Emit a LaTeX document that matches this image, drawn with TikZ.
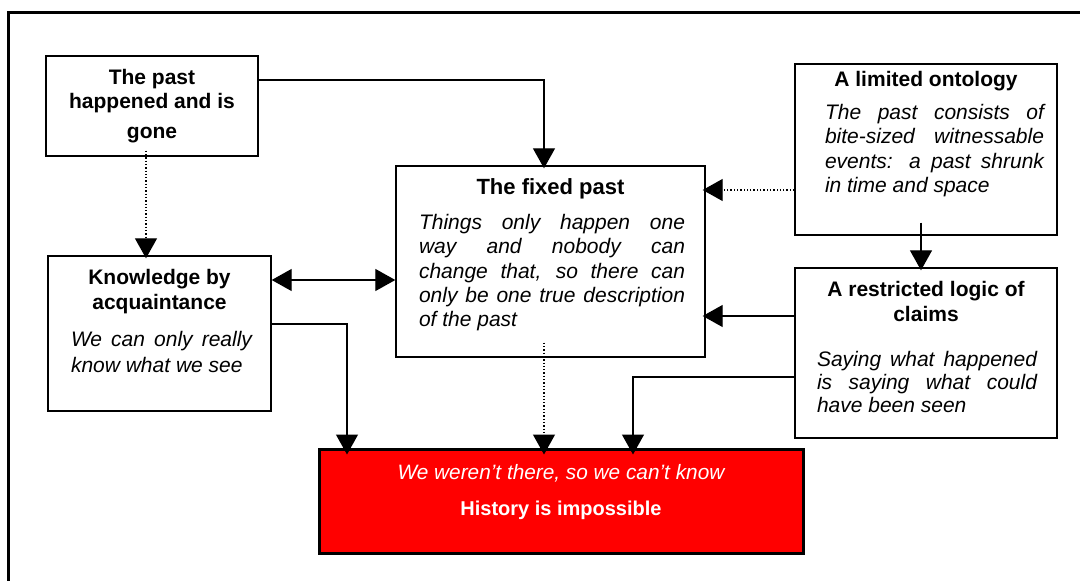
\documentclass[tikz,border=0pt]{standalone}
\usepackage{fontspec}
\setmainfont{Liberation Sans}
\usetikzlibrary{positioning}
\usetikzlibrary{arrows.meta}

\tikzset{
    panel/.style={draw, line width=1.4pt, inner sep=0pt},
    headtext/.style={font=\bfseries\fontsize{21}{24.5}\selectfont, align=center, inner sep=0pt, anchor=north},
    bodytext/.style={font=\itshape\fontsize{21}{24.2}\selectfont, align=justify, inner sep=0pt, anchor=north},
    link/.style={line width=1.3pt, -{Triangle[width=22pt,length=20pt]}, shorten >=-3pt},
    mutual/.style={line width=1.3pt, {Triangle[width=22pt,length=20pt]}-{Triangle[width=22pt,length=20pt]}},
    hint/.style={link, dash pattern=on 1.3pt off 2pt},
}

\begin{document}
\begin{tikzpicture}[x=1pt,y=-1pt]

    \useasboundingbox (0,0) rectangle (1080,581);
    \draw[line width=3pt] (8,581) -- (8,12) -- (1080,12);

    % boxes
    \node[panel, minimum width=212pt, minimum height=100pt] (gone) at (152,106) {};
    \node[panel, minimum width=309pt, minimum height=191pt] (fixed) at (550.5,261.5) {};
    \node[panel, minimum width=262pt, minimum height=171pt] (onto) at (926,149.5) {};
    \node[panel, minimum width=262pt, minimum height=170pt] (claims) at (926,353) {};
    \node[panel, minimum width=223pt, minimum height=155pt] (know) at (159.5,333.5) {};
    \node[panel, fill=red, line width=3pt, minimum width=484pt, minimum height=104pt] (hist) at (561,501) {};

    % texts
    \node[headtext] (goneT) at ([yshift=-13.4pt]gone.north) {The past\\happened and is\\[5.5pt]gone};

    \node[headtext, font=\bfseries\fontsize{22}{24.5}\selectfont] (fixedT) at ([yshift=-12.8pt]fixed.north) {The fixed past};
    \node[bodytext, text width=266pt] (fixedB) at ([xshift=1.5pt,yshift=-49pt]fixed.north)
        {Things only happen one\linebreak way and nobody can\linebreak change that, so there can\linebreak only be one true description\linebreak of the past};

    \node[headtext] (ontoT) at ([yshift=-7.6pt]onto.north) {A limited ontology};
    \node[bodytext, text width=219pt] (ontoB) at ([xshift=8.5pt,yshift=-41pt]onto.north)
        {The past consists of\linebreak bite-sized witnessable\linebreak events: a past shrunk\linebreak in time and space};

    \node[headtext] (claimsT) at ([yshift=-14pt]claims.north) {A restricted logic of\\claims};
    \node[bodytext, text width=220pt, font=\itshape\fontsize{21}{23}\selectfont] (claimsB) at ([xshift=1pt,yshift=-83.6pt]claims.north)
        {Saying what happened\linebreak is saying what could\linebreak have been seen};

    \node[headtext, font=\bfseries\fontsize{21}{25}\selectfont] (knowT) at ([yshift=-14pt]know.north) {Knowledge by\\acquaintance};
    \node[bodytext, text width=181pt, font=\itshape\fontsize{21}{26.5}\selectfont] (knowB) at ([xshift=2pt,yshift=-75.6pt]know.north)
        {We can only really\linebreak know what we see};

    \node[headtext, text=white, font=\bfseries\fontsize{20}{24.5}\selectfont] (histT) at ([yshift=-16.4pt]hist.north)
        {{\itshape\mdseries\fontsize{20.8}{24.5}\selectfont We weren’t there, so we can’t know}\\[11.5pt]History is impossible};

    % connectors
    \draw[link] ([yshift=26pt]gone.east) -| ([xshift=-6.5pt]fixed.north);
    \draw[hint] ([xshift=-6pt,yshift=6pt]gone.south) -- ([xshift=-6pt]gone.south |- know.north);
    \coordinate (k1) at ([yshift=53.5pt]know.east);
    \draw[mutual] (k1) -- (k1 -| fixed.west);
    \draw[link, shorten >=-7pt] ([yshift=9.5pt]know.east) -| ([xshift=-214pt]hist.north);
    \coordinate (f1) at ([xshift=-6.5pt,yshift=15pt]fixed.south);
    \draw[hint, shorten >=-7pt] (f1) -- (f1 |- hist.north);
    \coordinate (o1) at ([yshift=-40.5pt]onto.west);
    \draw[hint] (o1) -- (o1 -| fixed.east);
    \draw[link] ([xshift=-5pt,yshift=13pt]onto.south) -- ([xshift=-5pt]claims.north);
    \coordinate (c1) at ([yshift=37pt]claims.west);
    \draw[link] (c1) -- (c1 -| fixed.east);
    \draw[link, shorten >=-7pt] ([yshift=-24pt]claims.west) -| ([xshift=72pt]hist.north);

\end{tikzpicture}
\end{document}
